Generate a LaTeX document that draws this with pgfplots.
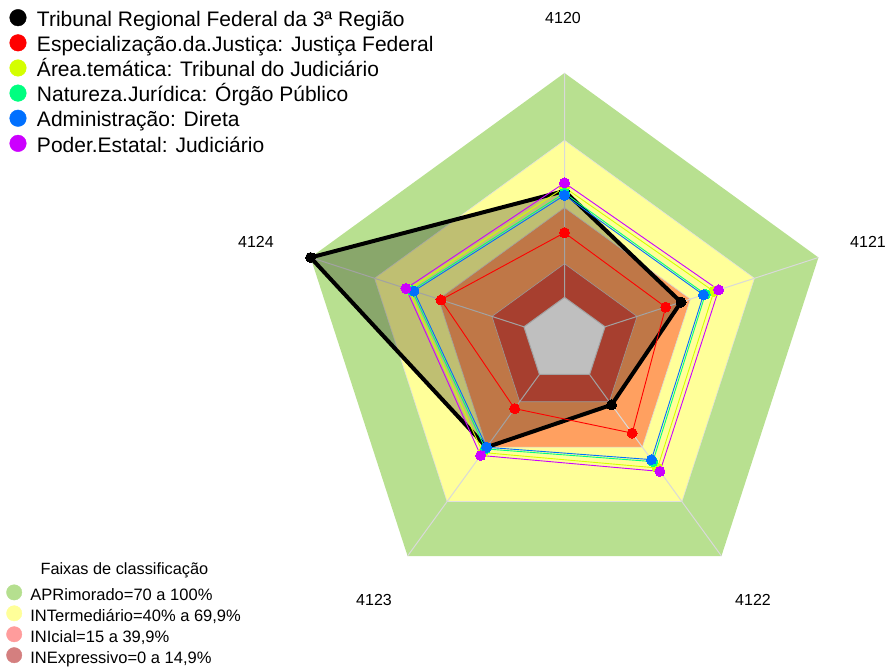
\documentclass[border=0pt]{standalone}
\usepackage{fontspec}
\setmainfont{Liberation Sans}
\usepackage{pgfplots}
\usepackage{pgfplotstable}
\pgfplotsset{compat=1.18}

\definecolor{bandG}{HTML}{B8E090}
\definecolor{bandY}{HTML}{FFFF99}
\definecolor{bandO}{HTML}{FFA060}
\definecolor{bandR}{HTML}{E05540}
\definecolor{cEsp}{HTML}{FF0000}
\definecolor{cArea}{HTML}{D4FF00}
\definecolor{cNat}{HTML}{00FF80}
\definecolor{cAdm}{HTML}{0070FF}
\definecolor{cPod}{HTML}{CC00FF}
\definecolor{lgG}{HTML}{B5DF8F}
\definecolor{lgY}{HTML}{FFFF99}
\definecolor{lgO}{HTML}{FF9C9C}
\definecolor{lgR}{HTML}{D47F7F}

% band limits (percent) on the five axes
\pgfplotstableread{
a b100 b70 b40 b15 b0
90 100 70 40 15 0
18 100 70 40 15 0
-54 100 70 40 15 0
-126 100 70 40 15 0
162 100 70 40 15 0
90 100 70 40 15 0
}\bands

% spokes from 0% to 100% (and the 0% ring)
\pgfplotstableread{
a r
90 0
90 100
90 0
18 0
18 100
18 0
-54 0
-54 100
-54 0
-126 0
-126 100
-126 0
162 0
162 100
162 0
90 0
}\spokes

% scores: 4120 4121 4122 4123 4124 (first repeated to close)
\pgfplotstableread{
a trf esp area nat adm pod
90 47.4 28.8 49.0 46.5 45.5 51.0
18 35.6 28.4 51.0 47.0 46.1 53.2
-54 16.7 32.3 51.5 48.0 46.9 53.4
-126 40.1 18.8 43.0 41.0 40.1 44.6
162 100 38.9 54.0 52.5 51.6 55.3
90 47.4 28.8 49.0 46.5 45.5 51.0
}\scores

\pgfplotsset{
  /pgfplots/table/radar/.style={
    x expr={(\thisrow{#1}+19)*2.2437*cos(\thisrow{a})},
    y expr={(\thisrow{#1}+19)*2.2437*sin(\thisrow{a})}},
}

\begin{document}
\begin{tikzpicture}
\begin{axis}[
  width=889bp, height=668bp, scale only axis,
  xmin=-564.5, xmax=324.5, ymin=-328, ymax=340,
  hide axis, clip=false,
  legend cell align=left,
  legend image code/.code={\fill[#1] (8.3bp,0.35em) circle (8.3bp);},
  legend style={at={(axis cs:-555,330.8)}, anchor=north west, draw=none, fill=none,
    inner sep=0pt, outer sep=0pt, row sep=3.6bp,
    font=\fontsize{21bp}{24bp}\selectfont,
    nodes={inner sep=0pt, text height=14.7bp, text depth=4.4bp},
    /tikz/every odd column/.append style={column sep=10.5bp}},
]
% bands
\addplot[draw=none, fill=bandG, forget plot] table[radar=b100] {\bands};
\addplot[draw=gray!25, line width=0.6bp, fill=bandY, forget plot] table[radar=b70] {\bands};
\addplot[draw=gray!30, line width=0.6bp, fill=bandO, forget plot] table[radar=b40] {\bands};
\addplot[draw=gray!40, line width=0.6bp, fill=bandR, forget plot] table[radar=b15] {\bands};
\addplot[draw=none, fill=white, forget plot] table[radar=b0] {\bands};
\addplot[draw=gray!30, line width=1bp, forget plot] table[radar=r] {\spokes};
% series
\addplot[black, line width=4bp, line join=round, fill=black, fill opacity=0.25,
  mark=*, mark size=5bp, mark options={fill opacity=1, line width=0pt}, forget plot]
  table[radar=trf] {\scores};
\addplot[cEsp, line width=0.9bp, mark=*, mark size=5bp, mark options={line width=0pt}, forget plot]
  table[radar=esp] {\scores};
\addplot[cArea, line width=0.9bp, mark=*, mark size=5bp, mark options={line width=0pt}, forget plot]
  table[radar=area] {\scores};
\addplot[cNat, line width=0.9bp, mark=*, mark size=5bp, mark options={line width=0pt}, forget plot]
  table[radar=nat] {\scores};
\addplot[cAdm, line width=0.9bp, mark=*, mark size=5bp, mark options={line width=0pt}, forget plot]
  table[radar=adm] {\scores};
\addplot[cPod, line width=0.9bp, mark=*, mark size=5bp, mark options={line width=0pt}, forget plot]
  table[radar=pod] {\scores};

\addlegendimage{black}
\addlegendentry{Tribunal Regional Federal da 3ª Região}
\addlegendimage{cEsp}
\addlegendentry{Especialização.da.Justiça: Justiça Federal}
\addlegendimage{cArea}
\addlegendentry{Área.temática: Tribunal do Judiciário}
\addlegendimage{cNat}
\addlegendentry{Natureza.Jurídica: Órgão Público}
\addlegendimage{cAdm}
\addlegendentry{Administração: Direta}
\addlegendimage{cPod}
\addlegendentry{Poder.Estatal: Judiciário}

% axis labels
\begin{scope}[every node/.style={font=\fontsize{16bp}{19bp}\selectfont}]
\node at (axis cs:-1.5,321.7) {4120};
\node at (axis cs:303.5,98) {4121};
\node at (axis cs:188.5,-260) {4122};
\node at (axis cs:-190.5,-260) {4123};
\node at (axis cs:-308.5,98) {4124};
\end{scope}
\node[font=\fontsize{16.3bp}{19bp}\selectfont] at (axis cs:-440.1,-230.5) {Faixas de classificação};
\end{axis}

\begin{axis}[
  width=889bp, height=668bp, scale only axis,
  xmin=-564.5, xmax=324.5, ymin=-328, ymax=340,
  hide axis, clip=false,
  legend cell align=left,
  legend image code/.code={\fill[#1] (7.7bp,0.35em) circle (7.7bp);},
  legend style={at={(axis cs:-558.2,-244.5)}, anchor=north west, draw=none, fill=none,
    inner sep=0pt, outer sep=0pt, row sep=2.3bp,
    font=\fontsize{16.5bp}{19bp}\selectfont,
    nodes={inner sep=0pt, text height=12bp, text depth=2.5bp},
    /tikz/every odd column/.append style={column sep=8.3bp}},
]
\addlegendimage{lgG}
\addlegendentry{APRimorado=70 a 100\%}
\addlegendimage{lgY}
\addlegendentry{INTermediário=40\% a 69,9\%}
\addlegendimage{lgO}
\addlegendentry{INIcial=15 a 39,9\%}
\addlegendimage{lgR}
\addlegendentry{INExpressivo=0 a 14,9\%}
\end{axis}
\pgfresetboundingbox
\useasboundingbox (0,0) rectangle (889bp,668bp);
\end{tikzpicture}
\end{document}
